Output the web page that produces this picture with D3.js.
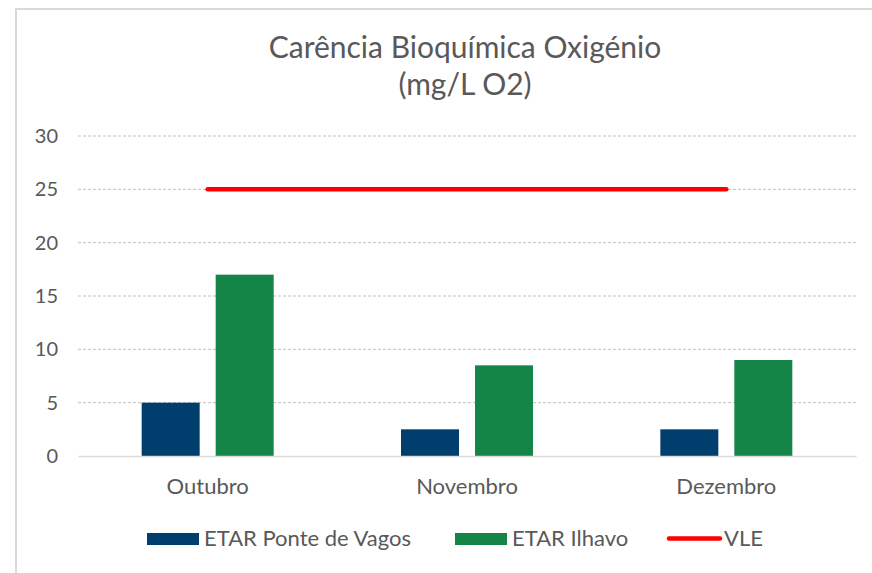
<!DOCTYPE html>
<html>
<head>
<meta charset="utf-8">
<script src="https://cdn.jsdelivr.net/npm/d3@7"></script>
<style>
	body { margin: 0; background: #fff; }
	svg { display: block; font-family: 'Lato', 'Open Sans', sans-serif; }
</style>
</head>
<body>
<svg id="chart"></svg>
<script>
const months = ['Outubro', 'Novembro', 'Dezembro'];
const seriesNames = ['ETAR Ponte de Vagos', 'ETAR Ilhavo'];
const ponteVagos = [5, 2.5, 2.5];
const ilhavo = [17, 8.5, 9];
const vle = [25, 25, 25];
const yTicks = [0, 5, 10, 15, 20, 25, 30];

const width = 872, height = 573;
const colors = { ponte: '#003e6e', ilhavo: '#158447', vle: '#ff0000', text: '#595959' };
const margin = { left: 78, right: 16, top: 136, bottom: 117 };
const fontFamily = "'Lato', 'Open Sans', sans-serif";

const svg = d3.select('#chart').attr('width', width).attr('height', height);

// outer frame (only top/left visible in the original)
svg.append('path')
	.attr('d', `M16,${height} V9 H${width}`)
	.attr('fill', 'none')
	.attr('stroke', '#d9d9d9')
	.attr('stroke-width', 2);

// title
const title = svg.append('text')
	.attr('text-anchor', 'middle')
	.attr('fill', colors.text)
	.style('font-size', '30px');
title.append('tspan').attr('x', 465).attr('y', 58).text('Carência Bioquímica Oxigénio');
title.append('tspan').attr('x', 465).attr('y', 95).text('(mg/L O2)');

const x = d3.scaleBand()
	.domain(months)
	.range([margin.left, width - margin.right]);
const xInner = d3.scaleBand()
	.domain(seriesNames)
	.range([0, 132])
	.paddingInner(16 / 74);
const y = d3.scaleLinear()
	.domain([0, 30])
	.range([height - margin.bottom, margin.top]);

// gridlines
svg.append('g')
	.selectAll('line')
	.data(yTicks.filter(t => t > 0))
	.enter()
	.append('line')
	.attr('x1', margin.left)
	.attr('x2', width - margin.right)
	.attr('y1', d => y(d))
	.attr('y2', d => y(d))
	.attr('stroke', '#bfbfbf')
	.attr('stroke-width', 1)
	.attr('stroke-dasharray', '3,2');

// y axis labels
const yAxis = d3.axisLeft(y).tickValues(yTicks).tickSize(0).tickPadding(0);
const yAxisGroup = svg.append('g')
	.attr('transform', `translate(58, 0)`)
	.call(yAxis);
yAxisGroup.select('.domain').remove();
yAxisGroup.selectAll('text')
	.attr('fill', colors.text)
	.style('font-size', '20px')
	.style('font-family', fontFamily);

// bars
const groups = svg.append('g')
	.selectAll('g')
	.data(months.map((m, i) => ({ month: m, values: [ponteVagos[i], ilhavo[i]] })))
	.enter()
	.append('g')
	.attr('transform', d => `translate(${x(d.month) + (x.bandwidth() - 132) / 2}, 0)`);
groups.selectAll('rect')
	.data(d => d.values.map((v, i) => ({ name: seriesNames[i], value: v })))
	.enter()
	.append('rect')
	.attr('x', d => xInner(d.name))
	.attr('width', xInner.bandwidth())
	.attr('y', d => y(d.value))
	.attr('height', d => y(0) - y(d.value))
	.attr('fill', d => d.name === seriesNames[0] ? colors.ponte : colors.ilhavo);

// x axis
const xAxis = d3.axisBottom(x).tickSize(0).tickPadding(22);
const xAxisGroup = svg.append('g')
	.attr('transform', `translate(0, ${y(0)})`)
	.call(xAxis);
xAxisGroup.select('.domain')
	.attr('stroke', '#d9d9d9')
	.attr('stroke-width', 1.5);
xAxisGroup.selectAll('text')
	.attr('fill', colors.text)
	.style('font-size', '22px')
	.style('font-family', fontFamily);

// VLE line
const line = d3.line()
	.x((d, i) => x(months[i]) + x.bandwidth() / 2)
	.y(d => y(d));
svg.append('path')
	.datum(vle)
	.attr('d', line)
	.attr('fill', 'none')
	.attr('stroke', colors.vle)
	.attr('stroke-width', 4.5)
	.attr('stroke-linecap', 'round');

// legend
const legend = svg.append('g').style('font-size', '22px');
const legendItems = [
	{ name: seriesNames[0], type: 'rect', color: colors.ponte, x: 147 },
	{ name: seriesNames[1], type: 'rect', color: colors.ilhavo, x: 455 },
	{ name: 'VLE', type: 'line', color: colors.vle, x: 667 }
];
for (const item of legendItems) {
	if (item.type === 'rect') {
		legend.append('rect')
			.attr('x', item.x).attr('y', 533)
			.attr('width', 52).attr('height', 12)
			.attr('fill', item.color);
	} else {
		legend.append('line')
			.attr('x1', item.x + 2).attr('x2', item.x + 53)
			.attr('y1', 538.5).attr('y2', 538.5)
			.attr('stroke', item.color)
			.attr('stroke-width', 4.5)
			.attr('stroke-linecap', 'round');
	}
	legend.append('text')
		.attr('x', item.x + 57)
		.attr('y', 546)
		.attr('fill', colors.text)
		.text(item.name);
}
</script>
</body>
</html>
